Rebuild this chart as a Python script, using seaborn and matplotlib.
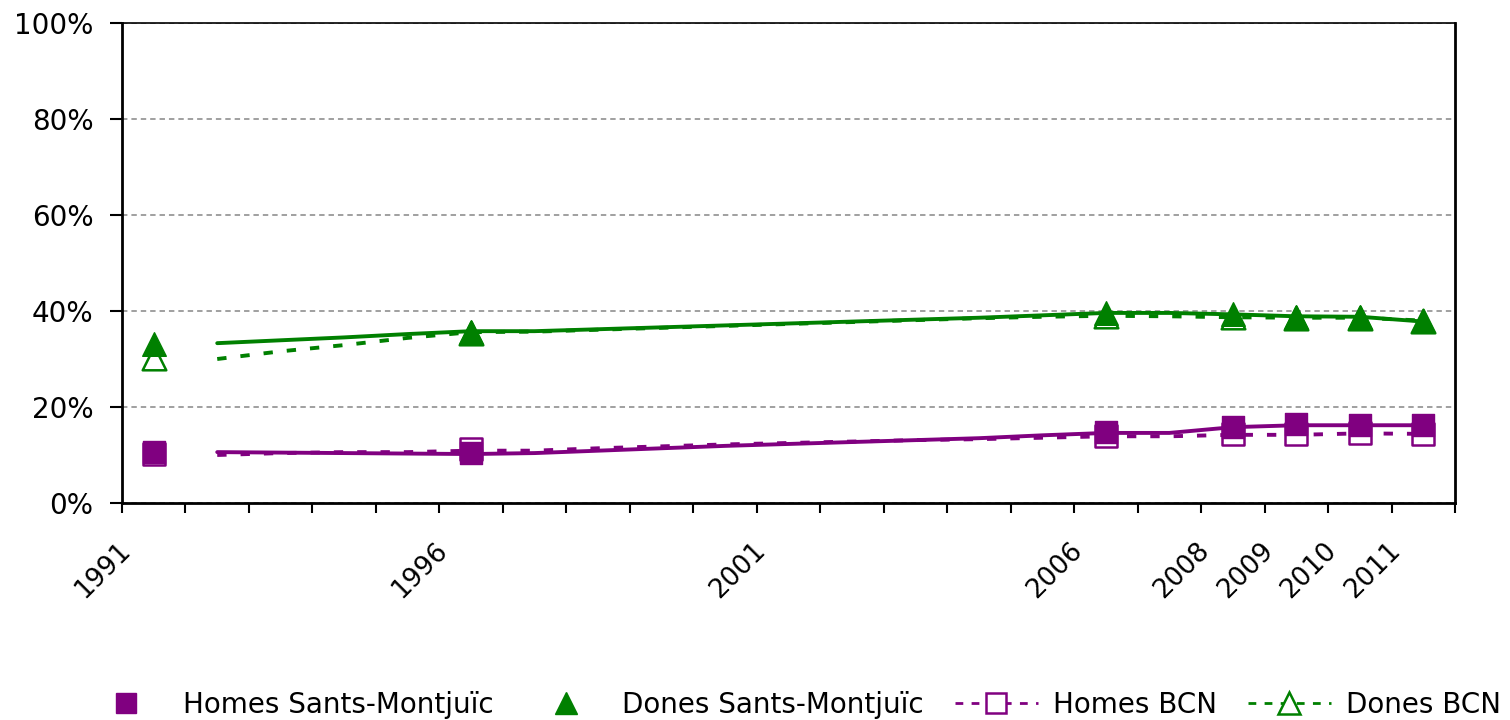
import matplotlib
matplotlib.use("Agg")
import numpy as np
import pandas as pd
import matplotlib.pyplot as plt
import seaborn as sns
from matplotlib.lines import Line2D
from matplotlib.ticker import PercentFormatter, FixedLocator
from matplotlib.transforms import ScaledTranslation

sns.set_style("white")
plt.rcParams['font.family'] = ['DejaVu Sans']
plt.rcParams['text.color'] = 'black'
plt.rcParams['xtick.color'] = 'black'
plt.rcParams['ytick.color'] = 'black'

# categories
years = list(range(1991, 2012))
year_labels = ["1991", "", "", "", "", "1996", "", "", "", "", "2001",
               "", "", "", "", "2006", "", "2008", "2009", "2010", "2011"]

# yearly lines (no legend entry), 1992-2011
line_years = list(range(1992, 2012))
homes_sm_line = [10.6, 10.5, 10.4, 10.3, 10.2, 10.4, 10.9, 11.4, 11.9, 12.3,
                 12.7, 13.1, 13.5, 14.1, 14.6, 14.6, 15.8, 16.2, 16.2, 16.2]
dones_sm_line = [33.3, 33.9, 34.5, 35.2, 35.8, 35.8, 36.2, 36.6, 37.0, 37.4,
                 37.8, 38.2, 38.6, 39.1, 39.6, 39.6, 39.3, 38.9, 38.8, 37.8]
homes_bcn_line = [10.0, 10.4, 10.6, 10.6, 10.9, 10.9, 11.4, 11.8, 12.2, 12.5,
                  12.8, 13.1, 13.3, 13.6, 13.9, 13.9, 14.2, 14.2, 14.5, 14.4]
dones_bcn_line = [30.0, 31.6, 32.9, 34.4, 35.6, 35.7, 36.1, 36.5, 36.9, 37.3,
                  37.7, 38.1, 38.5, 38.8, 39.0, 38.9, 38.7, 38.6, 38.6, 38.0]

# marker series
marker_years = [1991, 1996, 2006, 2008, 2009, 2010, 2011]
homes_sm = [10.7, 10.5, 14.8, 15.8, 16.4, 16.2, 16.2]
dones_sm = [33.2, 35.6, 39.6, 39.3, 38.8, 38.8, 37.9]
homes_bcn = [10.2, 11.3, 14.0, 14.4, 14.4, 14.6, 14.4]
dones_bcn = [30.2, 35.5, 38.9, 38.7, 38.6, 38.6, 37.9]

purple = "#800080"
green = "#008000"
_fs = 20

fig, ax = plt.subplots(figsize=(15.1, 7.2), dpi=100)
fig.subplots_adjust(left=0.0808, right=0.9636, bottom=0.3014, top=0.968)

dotted = (0, (2.4, 3.6))
sns.lineplot(x=line_years, y=homes_bcn_line, color=purple, linewidth=2.8,
             linestyle=dotted, ax=ax, zorder=2)
sns.lineplot(x=line_years, y=dones_bcn_line, color=green, linewidth=2.8,
             linestyle=dotted, ax=ax, zorder=2)
sns.lineplot(x=line_years, y=homes_sm_line, color=purple, linewidth=2.8, ax=ax, zorder=2)
sns.lineplot(x=line_years, y=dones_sm_line, color=green, linewidth=2.8, ax=ax, zorder=2)

# open markers (BCN) behind the filled ones
sns.scatterplot(x=marker_years, y=homes_bcn, marker="s", s=15.5**2, color="white",
                edgecolor=purple, linewidth=1.8, ax=ax, zorder=3)
sns.scatterplot(x=marker_years, y=dones_bcn, marker="^", s=17**2, color="white",
                edgecolor=green, linewidth=1.8, ax=ax, zorder=3)
sns.scatterplot(x=marker_years, y=homes_sm, marker="s", s=15.5**2, color=purple,
                edgecolor=purple, linewidth=1, ax=ax, zorder=4)
sns.scatterplot(x=marker_years, y=dones_sm, marker="^", s=17**2, color=green,
                edgecolor=green, linewidth=1, ax=ax, zorder=4)

# axes
ax.set_xlim(years[0] - 0.5, years[-1] + 0.5)
ax.set_ylim(0, 100)
ax.set_yticks([0, 20, 40, 60, 80, 100])
ax.yaxis.set_major_formatter(PercentFormatter(decimals=0))
ax.set_xlabel("")
ax.set_ylabel("")

ax.xaxis.set_major_locator(FixedLocator([y - 0.5 for y in years] + [years[-1] + 0.5]))
ax.xaxis.set_major_formatter(plt.NullFormatter())
ax.set_xticks(years, minor=True)
ax.set_xticklabels(year_labels, minor=True, rotation=45, ha="right", fontsize=19)
ax.tick_params(axis="x", which="major", direction="out", length=7.2, width=1.5,
               color="black", bottom=True)
ax.tick_params(axis="x", which="minor", length=0, pad=25, bottom=True)
for lab in ax.get_xticklabels(minor=True):
    lab.set_transform(lab.get_transform() + ScaledTranslation(-0.18, 0, fig.dpi_scale_trans))

ax.tick_params(axis="y", direction="out", length=8.6, width=1.5, color="black",
               labelsize=_fs, pad=12, left=True)

ax.yaxis.grid(True, color="#999999", linestyle=(0, (3, 2.2)), linewidth=1.3)
ax.xaxis.grid(False)
for side in ["left", "bottom", "right"]:
    ax.spines[side].set_color("black")
    ax.spines[side].set_linewidth(2)
ax.spines["top"].set_color("black")
ax.spines["top"].set_linewidth(1.2)

handles = [
    Line2D([], [], color=purple, marker="s", linestyle="none", markersize=14),
    Line2D([], [], color=green, marker="^", linestyle="none", markersize=16),
    Line2D([], [], color=purple, marker="s", linestyle=(0, (2.8, 3)), linewidth=2,
           markerfacecolor="white", markeredgecolor=purple, markeredgewidth=1.8, markersize=14),
    Line2D([], [], color=green, marker="^", linestyle=(0, (2.8, 3)), linewidth=2,
           markerfacecolor="white", markeredgecolor=green, markeredgewidth=1.8, markersize=16),
]
labels = ["Homes Sants-Montjuïc", "Dones Sants-Montjuïc", "Homes BCN", "Dones BCN"]
fig.legend(handles, labels, loc="center", bbox_to_anchor=(0.525, 0.021), ncol=4,
           frameon=False, fontsize=_fs, handlelength=3.0, handletextpad=0.55,
           columnspacing=1.1, borderpad=0, borderaxespad=0)

fig.savefig("out.png", dpi=100)
